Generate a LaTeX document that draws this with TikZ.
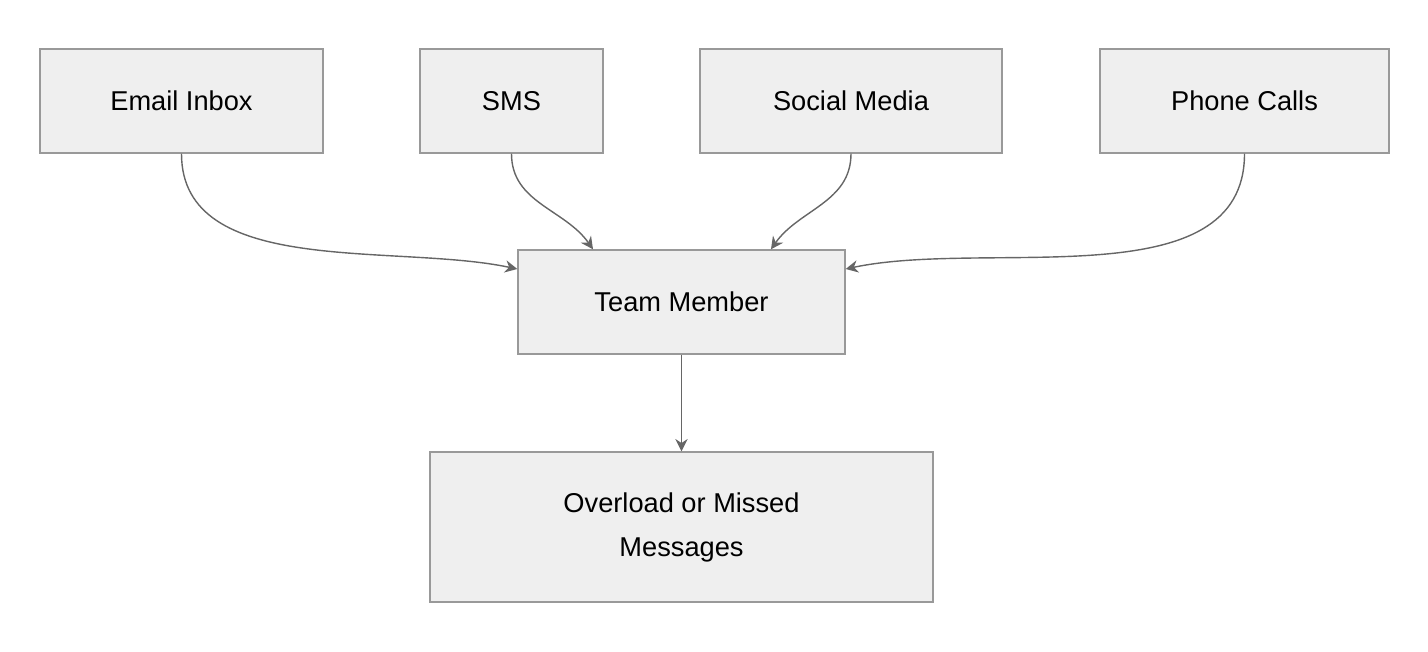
\documentclass[tikz,border=0pt]{standalone}
\usepackage{fontspec}
\setmainfont{Liberation Sans}
\usetikzlibrary{arrows.meta}
\definecolor{boxfill}{HTML}{EFEFEF}
\definecolor{boxline}{HTML}{999999}
\definecolor{edgeline}{HTML}{666666}
\begin{document}
\begin{tikzpicture}[x=0.02cm,y=-0.02cm]
\tikzset{box/.style={draw=boxline,fill=boxfill,line width=0.8pt,inner sep=0pt,
  align=center,font=\fontsize{15.5}{25}\selectfont,minimum height=2.08cm},
  flow/.style={draw=edgeline,line width=0.8pt,-{Stealth[length=7pt,width=7pt]}}}
\useasboundingbox (0,0) rectangle (1428,652);
\node [box,minimum width=5.66cm] (email) at (181.5,101) {Email Inbox};
\node [box,minimum width=3.66cm] (sms) at (511.5,101) {SMS};
\node [box,minimum width=6.04cm] (social) at (851,101) {Social Media};
\node [box,minimum width=5.78cm] (phone) at (1244.5,101) {Phone Calls};
\node [box,minimum width=6.54cm] (team) at (681.5,302) {Team Member};
\node [box,minimum width=10.06cm,minimum height=3cm] (over) at (681.5,527) {Overload or Missed\\Messages};
% inputs
\draw [flow] (email.south) to[out=-90,in=168,looseness=0.9] ([yshift=0.66cm]team.west);
\draw [flow] (sms.south) to[out=-90,in=125] ([xshift=-1.77cm]team.north);
\draw [flow] (social.south) to[out=-90,in=55] ([xshift=1.79cm]team.north);
\draw [flow] (phone.south) to[out=-90,in=12,looseness=0.9] ([yshift=0.66cm]team.east);
% result
\draw [flow] (team) -- (over);
\end{tikzpicture}
\end{document}
